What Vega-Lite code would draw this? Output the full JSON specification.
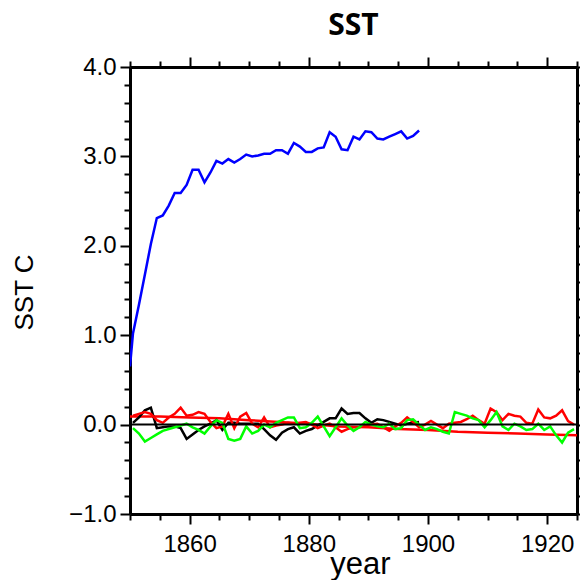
{
  "$schema": "https://vega.github.io/schema/vega-lite/v6.json",
  "width": 447,
  "height": 447,
  "autosize": {"type": "none"},
  "padding": {"left": 130, "top": 67, "right": 3, "bottom": 66},
  "background": "white",
  "title": {"text": "SST", "font": "Open Sans", "fontSize": 30, "fontWeight": "bold", "anchor": "middle", "offset": 14, "color": "black"},
  "config": {
    "view": {"stroke": null},
    "axis": {"grid": false, "domainColor": "black", "domainWidth": 3, "tickColor": "black", "tickWidth": 2, "labelColor": "black", "labelFont": "Liberation Sans", "labelFontSize": 24, "titleColor": "black", "titleFont": "Liberation Sans", "titleFontWeight": "normal"}
  },
  "datasets": {
    "noisy": [
      {"t": 1850.0, "v": 0.65, "s": "blue"},
      {"t": 1850.5, "v": 1.02, "s": "blue"},
      {"t": 1851.5, "v": 1.34, "s": "blue"},
      {"t": 1852.5, "v": 1.68, "s": "blue"},
      {"t": 1853.5, "v": 2.02, "s": "blue"},
      {"t": 1854.5, "v": 2.31, "s": "blue"},
      {"t": 1855.5, "v": 2.34, "s": "blue"},
      {"t": 1856.5, "v": 2.45, "s": "blue"},
      {"t": 1857.5, "v": 2.59, "s": "blue"},
      {"t": 1858.5, "v": 2.59, "s": "blue"},
      {"t": 1859.5, "v": 2.68, "s": "blue"},
      {"t": 1860.5, "v": 2.85, "s": "blue"},
      {"t": 1861.5, "v": 2.85, "s": "blue"},
      {"t": 1862.5, "v": 2.71, "s": "blue"},
      {"t": 1863.5, "v": 2.82, "s": "blue"},
      {"t": 1864.5, "v": 2.95, "s": "blue"},
      {"t": 1865.5, "v": 2.92, "s": "blue"},
      {"t": 1866.5, "v": 2.97, "s": "blue"},
      {"t": 1867.5, "v": 2.93, "s": "blue"},
      {"t": 1868.5, "v": 2.97, "s": "blue"},
      {"t": 1869.5, "v": 3.02, "s": "blue"},
      {"t": 1870.5, "v": 3.00, "s": "blue"},
      {"t": 1871.5, "v": 3.01, "s": "blue"},
      {"t": 1872.5, "v": 3.03, "s": "blue"},
      {"t": 1873.5, "v": 3.03, "s": "blue"},
      {"t": 1874.5, "v": 3.07, "s": "blue"},
      {"t": 1875.5, "v": 3.07, "s": "blue"},
      {"t": 1876.5, "v": 3.03, "s": "blue"},
      {"t": 1877.5, "v": 3.15, "s": "blue"},
      {"t": 1878.5, "v": 3.11, "s": "blue"},
      {"t": 1879.5, "v": 3.05, "s": "blue"},
      {"t": 1880.5, "v": 3.05, "s": "blue"},
      {"t": 1881.5, "v": 3.09, "s": "blue"},
      {"t": 1882.5, "v": 3.10, "s": "blue"},
      {"t": 1883.5, "v": 3.27, "s": "blue"},
      {"t": 1884.5, "v": 3.22, "s": "blue"},
      {"t": 1885.5, "v": 3.08, "s": "blue"},
      {"t": 1886.5, "v": 3.07, "s": "blue"},
      {"t": 1887.5, "v": 3.22, "s": "blue"},
      {"t": 1888.5, "v": 3.19, "s": "blue"},
      {"t": 1889.5, "v": 3.28, "s": "blue"},
      {"t": 1890.5, "v": 3.27, "s": "blue"},
      {"t": 1891.5, "v": 3.20, "s": "blue"},
      {"t": 1892.5, "v": 3.19, "s": "blue"},
      {"t": 1893.5, "v": 3.22, "s": "blue"},
      {"t": 1894.5, "v": 3.25, "s": "blue"},
      {"t": 1895.5, "v": 3.28, "s": "blue"},
      {"t": 1896.5, "v": 3.20, "s": "blue"},
      {"t": 1897.5, "v": 3.23, "s": "blue"},
      {"t": 1898.5, "v": 3.29, "s": "blue"},

      {"t": 1850.5, "v": 0.02, "s": "black"},
      {"t": 1851.5, "v": 0.08, "s": "black"},
      {"t": 1852.5, "v": 0.16, "s": "black"},
      {"t": 1853.5, "v": 0.19, "s": "black"},
      {"t": 1854.5, "v": -0.04, "s": "black"},
      {"t": 1855.5, "v": -0.03, "s": "black"},
      {"t": 1856.5, "v": -0.02, "s": "black"},
      {"t": 1857.5, "v": -0.02, "s": "black"},
      {"t": 1858.5, "v": -0.04, "s": "black"},
      {"t": 1859.5, "v": -0.16, "s": "black"},
      {"t": 1860.5, "v": -0.11, "s": "black"},
      {"t": 1861.5, "v": -0.06, "s": "black"},
      {"t": 1862.5, "v": -0.02, "s": "black"},
      {"t": 1863.5, "v": 0.01, "s": "black"},
      {"t": 1864.5, "v": 0.05, "s": "black"},
      {"t": 1865.5, "v": -0.06, "s": "black"},
      {"t": 1866.5, "v": 0.02, "s": "black"},
      {"t": 1867.5, "v": 0.02, "s": "black"},
      {"t": 1868.5, "v": 0.01, "s": "black"},
      {"t": 1869.5, "v": 0.01, "s": "black"},
      {"t": 1870.5, "v": 0.01, "s": "black"},
      {"t": 1871.5, "v": 0.01, "s": "black"},
      {"t": 1872.5, "v": -0.05, "s": "black"},
      {"t": 1873.5, "v": -0.12, "s": "black"},
      {"t": 1874.5, "v": -0.17, "s": "black"},
      {"t": 1875.5, "v": -0.09, "s": "black"},
      {"t": 1876.5, "v": -0.05, "s": "black"},
      {"t": 1877.5, "v": -0.03, "s": "black"},
      {"t": 1878.5, "v": -0.10, "s": "black"},
      {"t": 1879.5, "v": -0.07, "s": "black"},
      {"t": 1880.5, "v": -0.05, "s": "black"},
      {"t": 1881.5, "v": -0.01, "s": "black"},
      {"t": 1882.5, "v": 0.03, "s": "black"},
      {"t": 1883.5, "v": 0.07, "s": "black"},
      {"t": 1884.5, "v": 0.07, "s": "black"},
      {"t": 1885.5, "v": 0.18, "s": "black"},
      {"t": 1886.5, "v": 0.12, "s": "black"},
      {"t": 1887.5, "v": 0.13, "s": "black"},
      {"t": 1888.5, "v": 0.13, "s": "black"},
      {"t": 1889.5, "v": 0.07, "s": "black"},
      {"t": 1890.5, "v": 0.02, "s": "black"},
      {"t": 1891.5, "v": 0.06, "s": "black"},
      {"t": 1892.5, "v": 0.05, "s": "black"},
      {"t": 1893.5, "v": 0.03, "s": "black"},
      {"t": 1894.5, "v": 0.01, "s": "black"},
      {"t": 1895.5, "v": -0.01, "s": "black"},
      {"t": 1896.5, "v": 0.01, "s": "black"},
      {"t": 1897.5, "v": 0.02, "s": "black"},
      {"t": 1898.5, "v": 0.03, "s": "black"},

      {"t": 1850.5, "v": 0.10, "s": "red"},
      {"t": 1851.5, "v": 0.12, "s": "red"},
      {"t": 1852.5, "v": 0.14, "s": "red"},
      {"t": 1853.5, "v": 0.12, "s": "red"},
      {"t": 1854.5, "v": 0.05, "s": "red"},
      {"t": 1855.5, "v": 0.02, "s": "red"},
      {"t": 1856.5, "v": 0.08, "s": "red"},
      {"t": 1857.5, "v": 0.12, "s": "red"},
      {"t": 1858.5, "v": 0.19, "s": "red"},
      {"t": 1859.5, "v": 0.10, "s": "red"},
      {"t": 1860.5, "v": 0.11, "s": "red"},
      {"t": 1861.5, "v": 0.14, "s": "red"},
      {"t": 1862.5, "v": 0.12, "s": "red"},
      {"t": 1863.5, "v": 0.03, "s": "red"},
      {"t": 1864.5, "v": -0.04, "s": "red"},
      {"t": 1865.5, "v": -0.02, "s": "red"},
      {"t": 1866.5, "v": 0.12, "s": "red"},
      {"t": 1867.5, "v": -0.04, "s": "red"},
      {"t": 1868.5, "v": 0.09, "s": "red"},
      {"t": 1869.5, "v": 0.13, "s": "red"},
      {"t": 1870.5, "v": 0.01, "s": "red"},
      {"t": 1871.5, "v": -0.03, "s": "red"},
      {"t": 1872.5, "v": 0.08, "s": "red"},
      {"t": 1873.5, "v": -0.03, "s": "red"},
      {"t": 1874.5, "v": -0.01, "s": "red"},
      {"t": 1875.5, "v": 0.00, "s": "red"},
      {"t": 1876.5, "v": 0.02, "s": "red"},
      {"t": 1877.5, "v": 0.01, "s": "red"},
      {"t": 1878.5, "v": 0.02, "s": "red"},
      {"t": 1879.5, "v": 0.03, "s": "red"},
      {"t": 1880.5, "v": 0.00, "s": "red"},
      {"t": 1881.5, "v": -0.04, "s": "red"},
      {"t": 1882.5, "v": -0.01, "s": "red"},
      {"t": 1883.5, "v": 0.01, "s": "red"},
      {"t": 1884.5, "v": -0.03, "s": "red"},
      {"t": 1885.5, "v": -0.08, "s": "red"},
      {"t": 1886.5, "v": -0.05, "s": "red"},
      {"t": 1887.5, "v": -0.03, "s": "red"},
      {"t": 1888.5, "v": -0.03, "s": "red"},
      {"t": 1889.5, "v": -0.01, "s": "red"},
      {"t": 1890.5, "v": 0.00, "s": "red"},
      {"t": 1891.5, "v": 0.01, "s": "red"},
      {"t": 1892.5, "v": -0.03, "s": "red"},
      {"t": 1893.5, "v": -0.07, "s": "red"},
      {"t": 1894.5, "v": -0.02, "s": "red"},
      {"t": 1895.5, "v": 0.02, "s": "red"},
      {"t": 1896.5, "v": 0.08, "s": "red"},
      {"t": 1897.5, "v": 0.03, "s": "red"},
      {"t": 1898.5, "v": -0.03, "s": "red"},
      {"t": 1899.5, "v": 0.00, "s": "red"},
      {"t": 1900.5, "v": 0.04, "s": "red"},
      {"t": 1901.5, "v": 0.00, "s": "red"},
      {"t": 1902.5, "v": -0.04, "s": "red"},
      {"t": 1903.5, "v": 0.01, "s": "red"},
      {"t": 1904.5, "v": 0.02, "s": "red"},
      {"t": 1905.5, "v": 0.03, "s": "red"},
      {"t": 1906.5, "v": 0.06, "s": "red"},
      {"t": 1907.5, "v": 0.10, "s": "red"},
      {"t": 1908.5, "v": 0.05, "s": "red"},
      {"t": 1909.5, "v": 0.01, "s": "red"},
      {"t": 1910.5, "v": 0.18, "s": "red"},
      {"t": 1911.5, "v": 0.14, "s": "red"},
      {"t": 1912.5, "v": 0.05, "s": "red"},
      {"t": 1913.5, "v": 0.12, "s": "red"},
      {"t": 1914.5, "v": 0.10, "s": "red"},
      {"t": 1915.5, "v": 0.09, "s": "red"},
      {"t": 1916.5, "v": 0.02, "s": "red"},
      {"t": 1917.5, "v": 0.01, "s": "red"},
      {"t": 1918.5, "v": 0.17, "s": "red"},
      {"t": 1919.5, "v": 0.08, "s": "red"},
      {"t": 1920.5, "v": 0.07, "s": "red"},
      {"t": 1921.5, "v": 0.10, "s": "red"},
      {"t": 1922.5, "v": 0.16, "s": "red"},
      {"t": 1923.5, "v": 0.04, "s": "red"},
      {"t": 1924.5, "v": 0.00, "s": "red"},

      {"t": 1850.5, "v": -0.04, "s": "green"},
      {"t": 1851.5, "v": -0.10, "s": "green"},
      {"t": 1852.5, "v": -0.19, "s": "green"},
      {"t": 1853.5, "v": -0.15, "s": "green"},
      {"t": 1854.5, "v": -0.11, "s": "green"},
      {"t": 1855.5, "v": -0.07, "s": "green"},
      {"t": 1856.5, "v": -0.05, "s": "green"},
      {"t": 1857.5, "v": -0.03, "s": "green"},
      {"t": 1858.5, "v": -0.01, "s": "green"},
      {"t": 1859.5, "v": 0.01, "s": "green"},
      {"t": 1860.5, "v": -0.03, "s": "green"},
      {"t": 1861.5, "v": -0.06, "s": "green"},
      {"t": 1862.5, "v": -0.10, "s": "green"},
      {"t": 1863.5, "v": -0.02, "s": "green"},
      {"t": 1864.5, "v": 0.05, "s": "green"},
      {"t": 1865.5, "v": 0.02, "s": "green"},
      {"t": 1866.5, "v": -0.16, "s": "green"},
      {"t": 1867.5, "v": -0.18, "s": "green"},
      {"t": 1868.5, "v": -0.16, "s": "green"},
      {"t": 1869.5, "v": -0.02, "s": "green"},
      {"t": 1870.5, "v": -0.10, "s": "green"},
      {"t": 1871.5, "v": -0.07, "s": "green"},
      {"t": 1872.5, "v": 0.00, "s": "green"},
      {"t": 1873.5, "v": -0.03, "s": "green"},
      {"t": 1874.5, "v": 0.02, "s": "green"},
      {"t": 1875.5, "v": 0.05, "s": "green"},
      {"t": 1876.5, "v": 0.08, "s": "green"},
      {"t": 1877.5, "v": 0.08, "s": "green"},
      {"t": 1878.5, "v": -0.04, "s": "green"},
      {"t": 1879.5, "v": -0.03, "s": "green"},
      {"t": 1880.5, "v": 0.02, "s": "green"},
      {"t": 1881.5, "v": 0.09, "s": "green"},
      {"t": 1882.5, "v": -0.02, "s": "green"},
      {"t": 1883.5, "v": -0.13, "s": "green"},
      {"t": 1884.5, "v": -0.03, "s": "green"},
      {"t": 1885.5, "v": 0.07, "s": "green"},
      {"t": 1886.5, "v": -0.01, "s": "green"},
      {"t": 1887.5, "v": -0.07, "s": "green"},
      {"t": 1888.5, "v": -0.03, "s": "green"},
      {"t": 1889.5, "v": 0.03, "s": "green"},
      {"t": 1890.5, "v": 0.00, "s": "green"},
      {"t": 1891.5, "v": -0.02, "s": "green"},
      {"t": 1892.5, "v": -0.03, "s": "green"},
      {"t": 1893.5, "v": 0.01, "s": "green"},
      {"t": 1894.5, "v": -0.05, "s": "green"},
      {"t": 1895.5, "v": -0.04, "s": "green"},
      {"t": 1896.5, "v": 0.05, "s": "green"},
      {"t": 1897.5, "v": 0.06, "s": "green"},
      {"t": 1898.5, "v": 0.00, "s": "green"},
      {"t": 1899.5, "v": -0.06, "s": "green"},
      {"t": 1900.5, "v": -0.03, "s": "green"},
      {"t": 1901.5, "v": -0.05, "s": "green"},
      {"t": 1902.5, "v": -0.08, "s": "green"},
      {"t": 1903.5, "v": -0.10, "s": "green"},
      {"t": 1904.5, "v": 0.14, "s": "green"},
      {"t": 1905.5, "v": 0.12, "s": "green"},
      {"t": 1906.5, "v": 0.10, "s": "green"},
      {"t": 1907.5, "v": 0.07, "s": "green"},
      {"t": 1908.5, "v": 0.05, "s": "green"},
      {"t": 1909.5, "v": -0.03, "s": "green"},
      {"t": 1910.5, "v": 0.05, "s": "green"},
      {"t": 1911.5, "v": 0.14, "s": "green"},
      {"t": 1912.5, "v": -0.02, "s": "green"},
      {"t": 1913.5, "v": -0.06, "s": "green"},
      {"t": 1914.5, "v": 0.01, "s": "green"},
      {"t": 1915.5, "v": -0.02, "s": "green"},
      {"t": 1916.5, "v": -0.06, "s": "green"},
      {"t": 1917.5, "v": -0.05, "s": "green"},
      {"t": 1918.5, "v": 0.01, "s": "green"},
      {"t": 1919.5, "v": -0.06, "s": "green"},
      {"t": 1920.5, "v": -0.02, "s": "green"},
      {"t": 1921.5, "v": -0.12, "s": "green"},
      {"t": 1922.5, "v": -0.20, "s": "green"},
      {"t": 1923.5, "v": -0.09, "s": "green"},
      {"t": 1924.5, "v": -0.05, "s": "green"}
    ],
    "trend": [
      {"t": 1850, "v": 0.09},
      {"t": 1855, "v": 0.09},
      {"t": 1860, "v": 0.08},
      {"t": 1865, "v": 0.07},
      {"t": 1870, "v": 0.05},
      {"t": 1875, "v": 0.03},
      {"t": 1880, "v": 0.01},
      {"t": 1885, "v": -0.02},
      {"t": 1890, "v": -0.03},
      {"t": 1895, "v": -0.05},
      {"t": 1900, "v": -0.06},
      {"t": 1905, "v": -0.08},
      {"t": 1910, "v": -0.09},
      {"t": 1915, "v": -0.10},
      {"t": 1920, "v": -0.11},
      {"t": 1925, "v": -0.12}
    ]
  },
  "layer": [
    {
      "data": {"name": "trend"},
      "mark": {"type": "line", "color": "#ff0000", "strokeWidth": 2.5, "clip": true},
      "encoding": {
        "x": {"field": "t", "type": "quantitative", "scale": {"domain": [1850, 1925], "nice": false, "zero": false},
          "axis": {"orient": "top", "labels": false, "title": null, "domain": true, "values": [1850,1855,1860,1865,1870,1875,1880,1885,1890,1895,1900,1905,1910,1915,1920,1925],
            "tickSize": {"condition": {"test": "datum.value % 20 === 0", "value": 10}, "value": 6}}},
        "y": {"field": "v", "type": "quantitative", "scale": {"domain": [-1, 4], "nice": false, "zero": false},
          "axis": {"orient": "right", "labels": false, "title": null, "values": [-1,-0.8,-0.6,-0.4,-0.2,0,0.2,0.4,0.6,0.8,1,1.2,1.4,1.6,1.8,2,2.2,2.4,2.6,2.8,3,3.2,3.4,3.6,3.8,4],
            "tickSize": {"condition": {"test": "abs(datum.value - round(datum.value)) < 0.001", "value": 10}, "value": 6}}}
      }
    },
    {
      "data": {"name": "noisy"},
      "mark": {"type": "line", "strokeWidth": 2.5, "clip": true},
      "encoding": {
        "x": {"field": "t", "type": "quantitative", "scale": {"domain": [1850, 1925], "nice": false, "zero": false},
          "axis": {"orient": "bottom", "title": "year", "titleFontSize": 31, "titleBaseline": "alphabetic", "titleY": 59, "titleX": 230, "labelPadding": 8, "format": "d",
            "labelExpr": "datum.value % 20 === 0 ? datum.label : ''",
            "values": [1850,1855,1860,1865,1870,1875,1880,1885,1890,1895,1900,1905,1910,1915,1920,1925],
            "tickSize": {"condition": {"test": "datum.value % 20 === 0", "value": 10}, "value": 6}}},
        "y": {"field": "v", "type": "quantitative", "scale": {"domain": [-1, 4], "nice": false, "zero": false},
          "axis": {"orient": "left", "title": "SST C", "titleFontSize": 26, "titleBaseline": "middle", "titleX": -106, "titleY": 225, "labelPadding": 4, "format": ".1f",
            "labelExpr": "abs(datum.value - round(datum.value)) < 0.001 ? datum.label : ''",
            "values": [-1,-0.8,-0.6,-0.4,-0.2,0,0.2,0.4,0.6,0.8,1,1.2,1.4,1.6,1.8,2,2.2,2.4,2.6,2.8,3,3.2,3.4,3.6,3.8,4],
            "tickSize": {"condition": {"test": "abs(datum.value - round(datum.value)) < 0.001", "value": 10}, "value": 6}}},
        "color": {"field": "s", "type": "nominal", "scale": {"domain": ["blue", "black", "red", "green"], "range": ["#0000ff", "#000000", "#ff0000", "#00ff00"]}, "legend": null}
      }
    },
    {
      "data": {"values": [{"z": 0}]},
      "mark": {"type": "rule", "color": "black", "strokeWidth": 2},
      "encoding": {"y": {"field": "z", "type": "quantitative", "axis": null}}
    }
  ],
  "resolve": {"axis": {"x": "independent", "y": "independent"}}
}
